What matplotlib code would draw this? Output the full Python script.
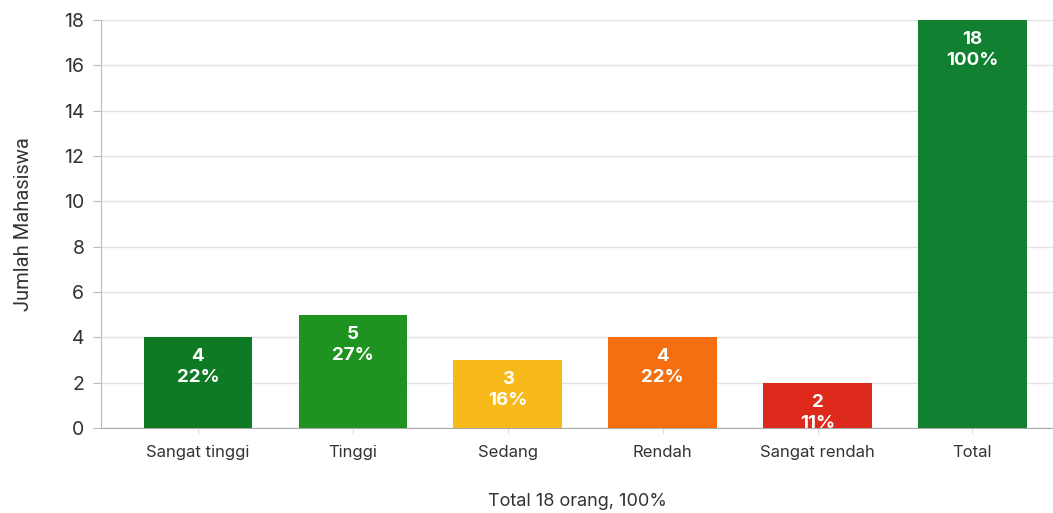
import matplotlib
matplotlib.use("Agg")
import matplotlib.pyplot as plt

categories = ["Sangat tinggi", "Tinggi", "Sedang", "Rendah", "Sangat rendah", "Total"]
values = [4, 5, 3, 4, 2, 18]
percents = ["22%", "27%", "16%", "22%", "11%", "100%"]
colors = ["#0f7a24", "#1f931f", "#f8b91a", "#f56f10", "#dd2a1d", "#118030"]
yticks = [0, 2, 4, 6, 8, 10, 12, 14, 16, 18]

plt.rcParams['font.family'] = ['Inter', 'DejaVu Sans']

fig = plt.figure(figsize=(10.53, 5.13), dpi=100)
ax = fig.add_axes([101/1053, 1 - 428/513, 1 - 101/1053, (428 - 20)/513])

x = list(range(len(categories)))
bars = ax.bar(x, values, width=0.70, color=colors, zorder=3)

for xi, v, p in zip(x, values, percents):
    ax.annotate(f"{v}\n{p}", xy=(xi, v), xytext=(0, -8), textcoords="offset points",
                ha="center", va="top", color="white", fontsize=13.5, fontweight="bold",
                linespacing=1.3, zorder=4)

ax.set_xlim(-0.625, 5.52)
ax.set_ylim(0, 18)
ax.set_yticks(yticks)
ax.set_yticklabels([str(t) for t in yticks], fontsize=14, color="#333333")
ax.set_xticks(x)
ax.set_xticklabels(categories, fontsize=12, color="#333333")
ax.tick_params(axis="y", length=6, color="#bbbbbb", pad=6)
ax.tick_params(axis="x", length=4, color="#dddddd", pad=8)

ax.grid(axis="y", color="#e3e3e3", linewidth=1, zorder=0)
for s in ["top", "right"]:
    ax.spines[s].set_visible(False)
ax.spines["left"].set_color("#bbbbbb")
ax.spines["bottom"].set_color("#aaaaaa")

ax.set_ylabel("Jumlah Mahasiswa", fontsize=14.5, color="#333333", family=["Roboto", "DejaVu Sans"],
              fontstretch="condensed", labelpad=22)
ax.set_xlabel("Total 18 orang, 100%", fontsize=13, color="#333333", labelpad=24)

fig.savefig("out.png", dpi=100)
